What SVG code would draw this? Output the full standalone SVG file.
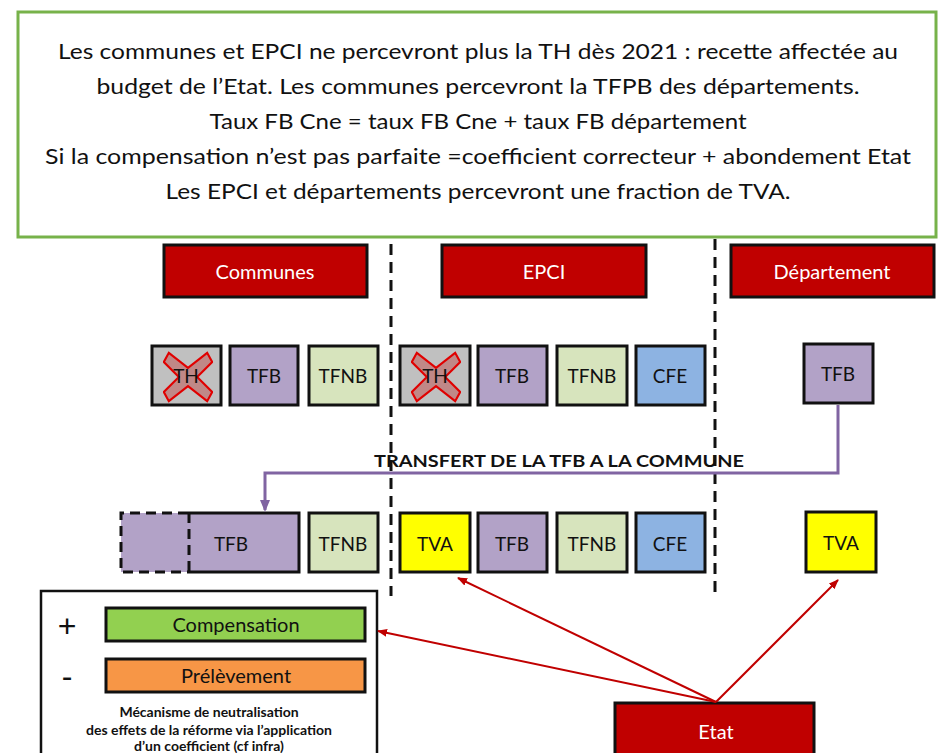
<svg xmlns="http://www.w3.org/2000/svg" width="946" height="753" viewBox="0 0 946 753">
<style>
text{font-family:Lato,"Open Sans","Liberation Sans",sans-serif;}
.top{font-size:21.5px;fill:#111;text-anchor:middle;}
.hdr rect{fill:#c00000;stroke:#111;stroke-width:3;}
.hdr text{fill:#fff;font-size:20px;text-anchor:middle;}
.b{stroke:#111;stroke-width:3;}
.bt{font-size:19px;fill:#111;text-anchor:middle;}
.th{fill:#c0c0c0;}
.tfb{fill:#b2a2c7;}
.tfnb{fill:#d7e4bd;}
.cfe{fill:#8db3e2;}
.tva{fill:#ffff00;}
.sep{stroke:#111;stroke-width:3;stroke-dasharray:11,7;fill:none;}
.red{stroke:#c00000;stroke-width:2;fill:none;marker-end:url(#ra);}
.x{fill:#c0504d;fill-opacity:0.5;stroke:#e00000;stroke-width:2.5;}
.leg{font-size:14px;font-weight:bold;fill:#111;text-anchor:middle;}
</style>
<defs>
<marker id="ra" markerWidth="10" markerHeight="8" refX="9" refY="4" orient="auto" markerUnits="userSpaceOnUse"><path d="M0,0 L10,4 L0,8 z" fill="#c00000"/></marker>
<marker id="pa" markerWidth="12" markerHeight="10" refX="10" refY="5" orient="auto" markerUnits="userSpaceOnUse"><path d="M0,0 L12,5 L0,10 z" fill="#8064a2"/></marker>
<symbol id="cross" viewBox="0 0 60 60"><path class="x" d="M7,1 L30,19 L53,1 L59,12 L41,30 L59,48 L53,59 L30,41 L7,59 L1,48 L19,30 L1,12 z"/></symbol>
</defs>
<rect width="946" height="753" fill="#fff"/>
<g id="intro">
<rect x="18" y="12" width="918" height="225" fill="#fff" stroke="#77b24a" stroke-width="3"/>
<text class="top" x="478" y="59" textLength="840" lengthAdjust="spacingAndGlyphs">Les communes et EPCI ne percevront plus la TH dès 2021 : recette affectée au</text>
<text class="top" x="478" y="94" textLength="763" lengthAdjust="spacingAndGlyphs">budget de l’Etat. Les communes percevront la TFPB des départements.</text>
<text class="top" x="478" y="129" textLength="537" lengthAdjust="spacingAndGlyphs">Taux FB Cne = taux FB Cne + taux FB département</text>
<text class="top" x="478" y="164" textLength="866" lengthAdjust="spacingAndGlyphs">Si la compensation n’est pas parfaite =coefficient correcteur + abondement Etat</text>
<text class="top" x="478" y="199" textLength="625" lengthAdjust="spacingAndGlyphs">Les EPCI et départements percevront une fraction de TVA.</text>
</g>
<g id="separators">
<line class="sep" x1="391" y1="244" x2="391" y2="596"/>
<line class="sep" x1="715" y1="239" x2="715" y2="596"/>
</g>
<g id="h-communes" class="hdr"><rect x="164" y="245" width="203" height="52"/><text x="265" y="279">Communes</text></g>
<g id="h-epci" class="hdr"><rect x="442" y="245" width="204" height="52"/><text x="544" y="279">EPCI</text></g>
<g id="h-dept" class="hdr"><rect x="731" y="245" width="203" height="52"/><text x="832" y="279">Département</text></g>

<g id="c-th"><rect class="b th" x="152" y="346" width="69" height="59"/><use href="#cross" x="163" y="349" width="50" height="56"/><text class="bt" x="186" y="383">TH</text></g>
<g id="c-tfb"><rect class="b tfb" x="230" y="346" width="68" height="59"/><text class="bt" x="264" y="383">TFB</text></g>
<g id="c-tfnb"><rect class="b tfnb" x="309" y="346" width="69" height="59"/><text class="bt" x="343" y="383">TFNB</text></g>
<g id="e-th"><rect class="b th" x="400" y="346" width="70" height="59"/><use href="#cross" x="411" y="349" width="50" height="56"/><text class="bt" x="435" y="383">TH</text></g>
<g id="e-tfb"><rect class="b tfb" x="478" y="346" width="69" height="59"/><text class="bt" x="512" y="383">TFB</text></g>
<g id="e-tfnb"><rect class="b tfnb" x="557" y="346" width="70" height="59"/><text class="bt" x="592" y="383">TFNB</text></g>
<g id="e-cfe"><rect class="b cfe" x="636" y="346" width="69" height="59"/><text class="bt" x="670" y="383">CFE</text></g>
<g id="d-tfb"><rect class="b tfb" x="804" y="344" width="69" height="59"/><text class="bt" x="838" y="381">TFB</text></g>

<g id="c2-tfb"><rect class="tfb" x="121" y="513" width="178" height="59"/><path d="M188,513 L299,513 L299,572 L188,572" fill="none" stroke="#111" stroke-width="3"/><path d="M188,513 L121,513 L121,572 L188,572 M189,513 L189,572" fill="none" stroke="#111" stroke-width="3" stroke-dasharray="10,6"/><text class="bt" x="231" y="551">TFB</text></g>
<g id="c2-tfnb"><rect class="b tfnb" x="309" y="513" width="69" height="59"/><text class="bt" x="343" y="551">TFNB</text></g>
<g id="e2-tva"><rect class="b tva" x="400" y="513" width="70" height="59"/><text class="bt" x="435" y="551">TVA</text></g>
<g id="e2-tfb"><rect class="b tfb" x="478" y="513" width="69" height="59"/><text class="bt" x="512" y="551">TFB</text></g>
<g id="e2-tfnb"><rect class="b tfnb" x="557" y="513" width="70" height="59"/><text class="bt" x="592" y="551">TFNB</text></g>
<g id="e2-cfe"><rect class="b cfe" x="636" y="513" width="69" height="59"/><text class="bt" x="670" y="551">CFE</text></g>
<g id="d2-tva"><rect class="b tva" x="806" y="512" width="70" height="60"/><text class="bt" x="841" y="550">TVA</text></g>

<g id="legend">
<rect x="41" y="591" width="336" height="175" fill="#fff" stroke="#111" stroke-width="2.5"/>
<text x="67" y="637" font-size="32" fill="#111" text-anchor="middle" style="font-family:'Liberation Sans',sans-serif">+</text>
<text x="67" y="687" font-size="32" fill="#111" text-anchor="middle" style="font-family:'Liberation Sans',sans-serif">-</text>
<g id="compensation"><rect x="106" y="608" width="259" height="33" fill="#92d050" stroke="#111" stroke-width="3"/><text x="236" y="632" font-size="20" fill="#111" text-anchor="middle">Compensation</text></g>
<g id="prelevement"><rect x="106" y="659" width="259" height="33" fill="#f79646" stroke="#111" stroke-width="3"/><text x="236" y="683" font-size="20" fill="#111" text-anchor="middle">Prélèvement</text></g>
<text class="leg" x="209" y="717">Mécanisme de neutralisation</text>
<text class="leg" x="209" y="735">des effets de la réforme via l’application</text>
<text class="leg" x="209" y="751">d’un coefficient (cf infra)</text>
</g>
<g id="etat"><rect x="615" y="703" width="199" height="60" fill="#c00000" stroke="#111" stroke-width="3"/><text x="716" y="739" font-size="20" fill="#fff" text-anchor="middle">Etat</text></g>

<g id="connectors">
<path d="M838,405 L838,473 L265,473 L265,510" fill="none" stroke="#8064a2" stroke-width="3" marker-end="url(#pa)"/>
<line class="red" x1="716" y1="702" x2="458" y2="578"/>
<line class="red" x1="716" y1="702" x2="378" y2="631"/>
<line class="red" x1="716" y1="702" x2="838" y2="580"/>
</g>
<text x="559" y="467" font-size="17" font-weight="bold" fill="#111" text-anchor="middle" textLength="370" lengthAdjust="spacingAndGlyphs">TRANSFERT DE LA TFB A LA COMMUNE</text>
</svg>
